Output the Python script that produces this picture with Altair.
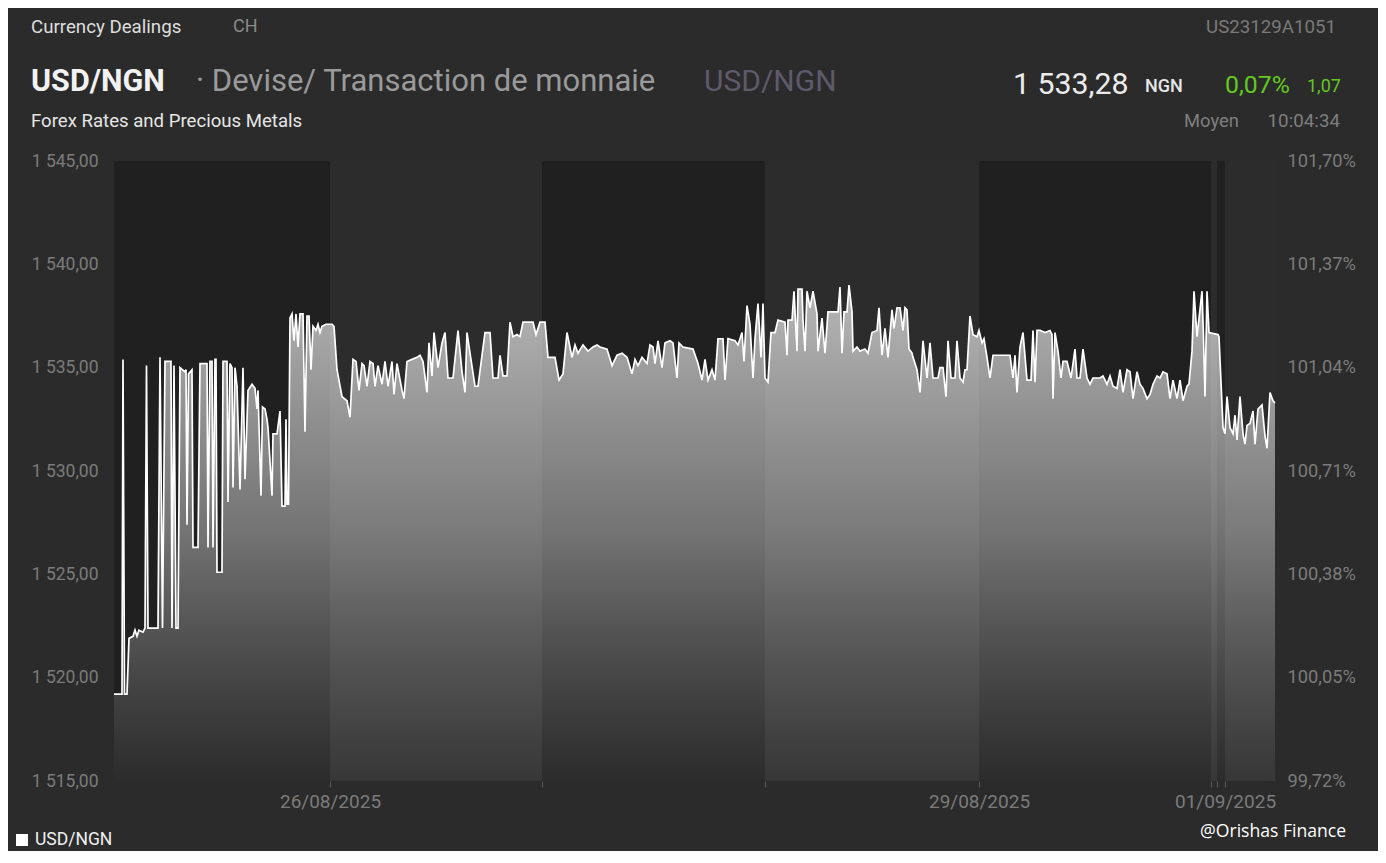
import altair as alt
import pandas as pd

# ---------------- data (time step index, USD/NGN rate) ----------------
d1_t = [0, 8, 9, 10.5, 13, 15, 19, 21, 23, 25, 29, 31, 32.5, 34, 44, 46, 48.5, 51, 57, 58,
        60, 62, 64, 66, 71, 72, 73, 74.5, 78, 79, 84, 86, 93, 94, 96, 98, 99, 101, 102, 103,
        108, 109, 113, 114, 116, 118, 119, 121, 123, 126, 129, 131, 134, 138, 141, 143, 144,
        147, 148.5, 151, 153, 154, 158, 159, 163, 166, 168, 171, 172, 173, 174.5, 176, 178,
        180, 182, 184, 186, 189, 191, 193, 195, 197, 199, 202, 204, 206, 208, 212, 215]
d1_v = [1519.2, 1519.2, 1535.4, 1519.2, 1519.2, 1521.9, 1522.0, 1522.3, 1522.0, 1522.3,
        1522.2, 1522.4, 1535.1, 1522.4, 1522.4, 1535.5, 1522.4, 1535.3, 1535.3, 1522.4,
        1535.1, 1522.4, 1522.4, 1535.0, 1534.8, 1534.9, 1527.4, 1534.7, 1534.9, 1526.3,
        1526.3, 1535.2, 1535.2, 1526.3, 1535.3, 1535.3, 1526.3, 1535.4, 1535.4, 1525.1,
        1525.1, 1535.3, 1535.3, 1528.5, 1535.2, 1535.0, 1529.2, 1535.0, 1534.1, 1529.1,
        1535.0, 1529.6, 1533.9, 1534.2, 1534.0, 1533.0, 1533.9, 1528.8, 1533.1, 1533.0,
        1532.5, 1532.1, 1528.8, 1531.8, 1531.8, 1532.9, 1528.3, 1528.3, 1532.5, 1528.4,
        1528.4, 1537.4, 1537.6, 1536.3, 1537.6, 1536.0, 1537.6, 1537.6, 1531.9, 1537.5,
        1537.5, 1534.9, 1537.0, 1536.8, 1537.1, 1536.7, 1537.0, 1537.1, 1537.1]

d2_t = [218, 220, 223, 228, 233, 236, 239, 242, 245, 248, 250, 253, 256, 259, 261, 264, 268,
        271, 274, 278, 280, 283, 288, 290, 293, 298, 303, 306, 309, 313, 315, 318, 320, 324,
        328, 331, 334, 339, 344, 348, 351, 353, 356, 361, 364, 368, 371, 376, 379, 384, 386,
        389, 393, 396, 399, 403, 406, 409, 419, 422, 426]
d2_v = [1537.1, 1537.0, 1534.9, 1533.6, 1533.4, 1532.6, 1535.4, 1535.3, 1533.9, 1535.2,
        1535.1, 1534.1, 1535.3, 1535.2, 1534.1, 1535.1, 1534.2, 1535.3, 1534.1, 1535.3,
        1533.7, 1535.2, 1533.9, 1533.5, 1535.3, 1535.4, 1535.5, 1535.6, 1535.3, 1533.8,
        1536.2, 1534.6, 1536.7, 1535.0, 1536.2, 1536.7, 1534.5, 1534.5, 1536.8, 1534.8,
        1533.8, 1536.7, 1535.7, 1534.1, 1534.1, 1535.6, 1536.7, 1536.7, 1534.5, 1534.5,
        1535.6, 1534.6, 1534.6, 1537.2, 1536.5, 1536.6, 1536.5, 1537.2, 1537.2, 1536.6,
        1537.2]

d3_t = [431, 434, 441, 445, 449, 453, 458, 461, 464, 469, 474, 479, 483, 486, 493, 498, 503,
        508, 513, 518, 521, 524, 528, 533, 536, 539, 541, 544, 548, 551, 556, 559, 563, 565,
        569, 579, 584, 588, 591, 594, 598, 601, 604, 609, 611, 614, 621, 624, 628, 630, 633,
        636, 639, 641, 644, 647, 649, 651]
d3_v = [1537.2, 1535.5, 1535.5, 1534.4, 1534.7, 1536.7, 1535.5, 1536.1, 1535.7, 1536.1,
        1535.8, 1536.0, 1536.1, 1536.0, 1535.9, 1535.1, 1535.6, 1535.7, 1535.5, 1534.7,
        1535.4, 1535.1, 1535.5, 1535.2, 1536.1, 1536.0, 1535.2, 1536.3, 1535.0, 1536.2,
        1536.3, 1536.2, 1534.5, 1536.2, 1536.0, 1535.9, 1535.2, 1534.4, 1535.4, 1534.4,
        1534.9, 1534.4, 1536.4, 1536.4, 1534.4, 1536.4, 1536.3, 1536.1, 1536.7, 1535.3,
        1538.0, 1537.1, 1534.5, 1536.4, 1538.1, 1535.5, 1538.1, 1534.5]

d4_t = [654, 657, 661, 664, 671, 673, 674, 678, 680, 683, 684, 688, 689, 691, 693, 696, 699,
        703, 704, 708, 711, 714, 724, 726, 728, 730, 733, 735, 738, 739, 743, 746, 751, 754,
        758, 763, 765, 768, 771, 774, 778, 780, 783, 786, 789, 791, 793, 795, 798, 799, 803,
        806, 809, 813, 816, 819, 824, 826, 829, 832, 834, 837, 841, 843, 846, 849, 851, 853,
        856, 859, 863, 865]
d4_v = [1534.3, 1536.7, 1536.7, 1537.3, 1537.2, 1535.6, 1537.3, 1537.3, 1538.7, 1535.8,
        1538.8, 1538.8, 1537.3, 1535.8, 1538.7, 1537.9, 1538.7, 1537.6, 1535.8, 1537.4,
        1535.7, 1537.7, 1537.7, 1538.9, 1535.7, 1537.7, 1537.7, 1539.0, 1537.7, 1535.8,
        1536.0, 1535.8, 1535.9, 1535.7, 1536.7, 1536.8, 1537.9, 1535.6, 1536.9, 1535.5,
        1537.8, 1536.9, 1537.9, 1537.9, 1536.8, 1537.9, 1537.8, 1535.9, 1535.7, 1535.5,
        1534.9, 1533.8, 1536.3, 1534.5, 1536.2, 1534.5, 1534.5, 1535.0, 1535.0, 1533.6,
        1536.3, 1534.5, 1534.5, 1536.3, 1534.5, 1534.3, 1534.9, 1534.9, 1537.5, 1536.6,
        1536.5, 1536.8]

d5_t = [868, 870, 873, 876, 879, 896, 899, 901, 903, 906, 909, 913, 917, 919, 921, 923, 926,
        931, 936, 938, 939, 941, 944, 947, 949, 953, 957, 961, 963, 966, 969, 973, 976, 979,
        986, 989, 993, 996, 999, 1003, 1006, 1009, 1013, 1016, 1019, 1023, 1026, 1029, 1033,
        1036, 1039, 1043, 1046, 1049, 1053, 1056, 1059, 1063, 1066, 1069, 1073, 1075, 1078,
        1080, 1083, 1088, 1089.5, 1091, 1093, 1095, 1104, 1105, 1109, 1111, 1113, 1116, 1119,
        1121, 1123, 1126, 1129, 1131, 1133, 1136, 1139, 1141, 1144, 1148, 1151, 1153, 1156,
        1159, 1161]
d5_v = [1536.2, 1536.4, 1535.5, 1534.5, 1535.6, 1535.6, 1534.5, 1535.6, 1533.8, 1536.0,
        1536.7, 1534.4, 1534.4, 1536.8, 1534.3, 1536.8, 1536.8, 1536.7, 1536.8, 1536.6,
        1533.5, 1536.7, 1535.8, 1534.5, 1535.3, 1535.3, 1534.5, 1535.9, 1534.5, 1534.5,
        1535.9, 1534.5, 1534.2, 1534.5, 1534.5, 1534.6, 1534.2, 1534.6, 1534.1, 1534.0,
        1534.9, 1533.8, 1534.9, 1534.8, 1533.5, 1534.8, 1534.2, 1534.0, 1533.5, 1533.7,
        1534.2, 1534.6, 1534.5, 1534.8, 1534.7, 1533.5, 1534.4, 1533.5, 1534.4, 1533.4,
        1534.1, 1534.2, 1535.8, 1538.7, 1536.5, 1538.7, 1536.5, 1533.6, 1538.7, 1536.7,
        1536.6, 1536.5, 1532.1, 1531.8, 1533.6, 1532.1, 1531.8, 1532.7, 1531.5, 1533.6,
        1531.8, 1531.3, 1532.2, 1532.3, 1532.9, 1531.3, 1533.0, 1533.2, 1531.7, 1531.1,
        1533.8, 1533.4, 1533.3]

# day boundaries on the time-step axis
day_ticks = [216, 428, 651, 865, 1097, 1103, 1111]
day_labels = ["26/08/2025", "", "", "29/08/2025", "", "", "01/09/2025"]
session_start = [0, 216, 428, 651, 865, 1097, 1103, 1111]
session_end = [216, 428, 651, 865, 1097, 1103, 1111, 1161]
session_kind = ["a", "b", "a", "b", "a", "b", "a", "b"]

y_ticks = [1515, 1520, 1525, 1530, 1535, 1540, 1545]
pct_ticks = [99.72, 100.05, 100.38, 100.71, 101.04, 101.37, 101.70]

# ---------------- chart ----------------
series = pd.DataFrame({"t": d1_t + d2_t + d3_t + d4_t + d5_t,
                       "v": d1_v + d2_v + d3_v + d4_v + d5_v})
sessions = pd.DataFrame({"s": session_start, "e": session_end, "k": session_kind})

X_DOM = [0, 1161]
Y_DOM = [1515, 1545]
OX, OY = 114, 161  # view origin on the page

label_expr_x = "".join(
    f"datum.value == {v} ? '{l}' : " for v, l in zip(day_ticks, day_labels) if l
) + "''"

xs = alt.Scale(domain=X_DOM, nice=False, zero=False)
ys = alt.Scale(domain=Y_DOM, nice=False, zero=False)

x_axis = alt.Axis(values=day_ticks, labelExpr=label_expr_x, domain=False, grid=False,
                  ticks=True, tickSize=6, tickColor="#5a5a5a", labelColor="#7b7b7b",
                  labelFontSize=19, labelFont="Roboto", labelPadding=5, title=None,
                  labelOverlap=False, labelFlush=False)
y_axis = alt.Axis(values=y_ticks,
                  labelExpr="replace(replace(format(datum.value, ',.2f'), ',', ' '), '.', ',')",
                  domain=False, grid=False, ticks=False, tickSize=0, labelPadding=16,
                  labelColor="#7b7b7b", labelFontSize=17.5, labelFont="Roboto", title=None)

bands = alt.Chart(sessions).mark_rect().encode(
    x=alt.X("s:Q", scale=xs, axis=x_axis),
    x2="e:Q",
    y=alt.Y("top:Q", scale=ys, axis=y_axis),
    y2="bottom:Q",
    color=alt.Color("k:N", scale=alt.Scale(domain=["a", "b"], range=["#202020", "#2c2c2c"]),
                    legend=None),
).transform_calculate(top="1545", bottom="1515")

area = alt.Chart(series).mark_area(
    color=alt.Gradient(
        gradient="linear",
        stops=[alt.GradientStop(color="rgba(255,255,255,0.66)", offset=0),
               alt.GradientStop(color="rgba(240,240,240,0.40)", offset=0.5),
               alt.GradientStop(color="rgba(200,200,200,0.07)", offset=1)],
        x1=1, x2=1, y1=0, y2=1),
    interpolate="linear",
).encode(
    x=alt.X("t:Q", scale=xs),
    y=alt.Y("v:Q", scale=ys),
    y2=alt.datum(1515),
)

line = alt.Chart(series).mark_line(color="#ffffff", strokeWidth=1.7, interpolate="linear").encode(
    x=alt.X("t:Q", scale=xs),
    y=alt.Y("v:Q", scale=ys),
)


def label(text, px, py, size, color, weight="normal", align="left", font="Roboto"):
    return alt.Chart(pd.DataFrame({"s": [text]})).mark_text(
        align=align, baseline="middle", font=font, fontSize=size, fontWeight=weight,
        color=color,
    ).encode(text="s:N", x=alt.value(px - OX), y=alt.value(py - OY))


texts = [
    label("Currency Dealings", 31, 27, 18.7, "#dedede"),
    label("CH", 233, 27, 18, "#8a8a8a"),
    label("USD/NGN", 31, 82, 30.5, "#f2f2f2", weight="bold"),
    label("\u00b7 Devise/ Transaction de monnaie", 196, 82, 31, "#9a9a9a"),
    label("USD/NGN", 704, 82, 30, "#5e5a6b"),
    label("Forex Rates and Precious Metals", 31, 121, 18.6, "#e6e6e6"),
    label("US23129A1051", 1336, 27, 18.7, "#7a7a7a", align="right"),
    label("1 533,28", 1013, 85, 30.3, "#ececec"),
    label("NGN", 1145, 87, 18, "#e6e6e6", weight=500),
    label("0,07%", 1225, 86, 24.8, "#62c91f"),
    label("1,07", 1307, 87, 18, "#62c91f"),
    label("Moyen", 1184, 121, 18.4, "#7f7f7f"),
    label("10:04:34", 1340, 121, 18.8, "#7f7f7f", align="right"),
    label("USD/NGN", 35, 840, 17.5, "#f0f0f0"),
    label("@Orishas Finance", 1200, 832, 17.6, "#ffffff", font="Open Sans"),
]

legend_sq = alt.Chart(pd.DataFrame({"a": [0]})).mark_rect(color="#ffffff").encode(
    x=alt.value(16 - OX), x2=alt.value(28 - OX), y=alt.value(834 - OY), y2=alt.value(846 - OY)
)

main = alt.layer(bands, area, line, legend_sq, *texts)

pct = alt.Chart(pd.DataFrame({"pct": pct_ticks})).mark_point(opacity=0).encode(
    y=alt.Y("pct:Q", scale=alt.Scale(domain=[99.72, 101.70], nice=False, zero=False),
            axis=alt.Axis(orient="right", values=pct_ticks,
                          labelExpr="replace(format(datum.value, '.2f'), '.', ',') + '%'",
                          domain=False, grid=False, ticks=False, tickSize=0, labelPadding=12,
                          labelColor="#7b7b7b", labelFontSize=18.3, labelFont="Roboto",
                          title=None))
)

chart = alt.layer(main, pct).resolve_scale(y="independent").properties(
    width=1161, height=620,
    padding={"left": 106, "top": 153, "right": 103, "bottom": 70},
    autosize=alt.AutoSizeParams(type="none"),
).configure(background="#2b2b2b").configure_view(stroke=None)

chart.save("out.html", embed_options={"renderer": "svg", "actions": False})
